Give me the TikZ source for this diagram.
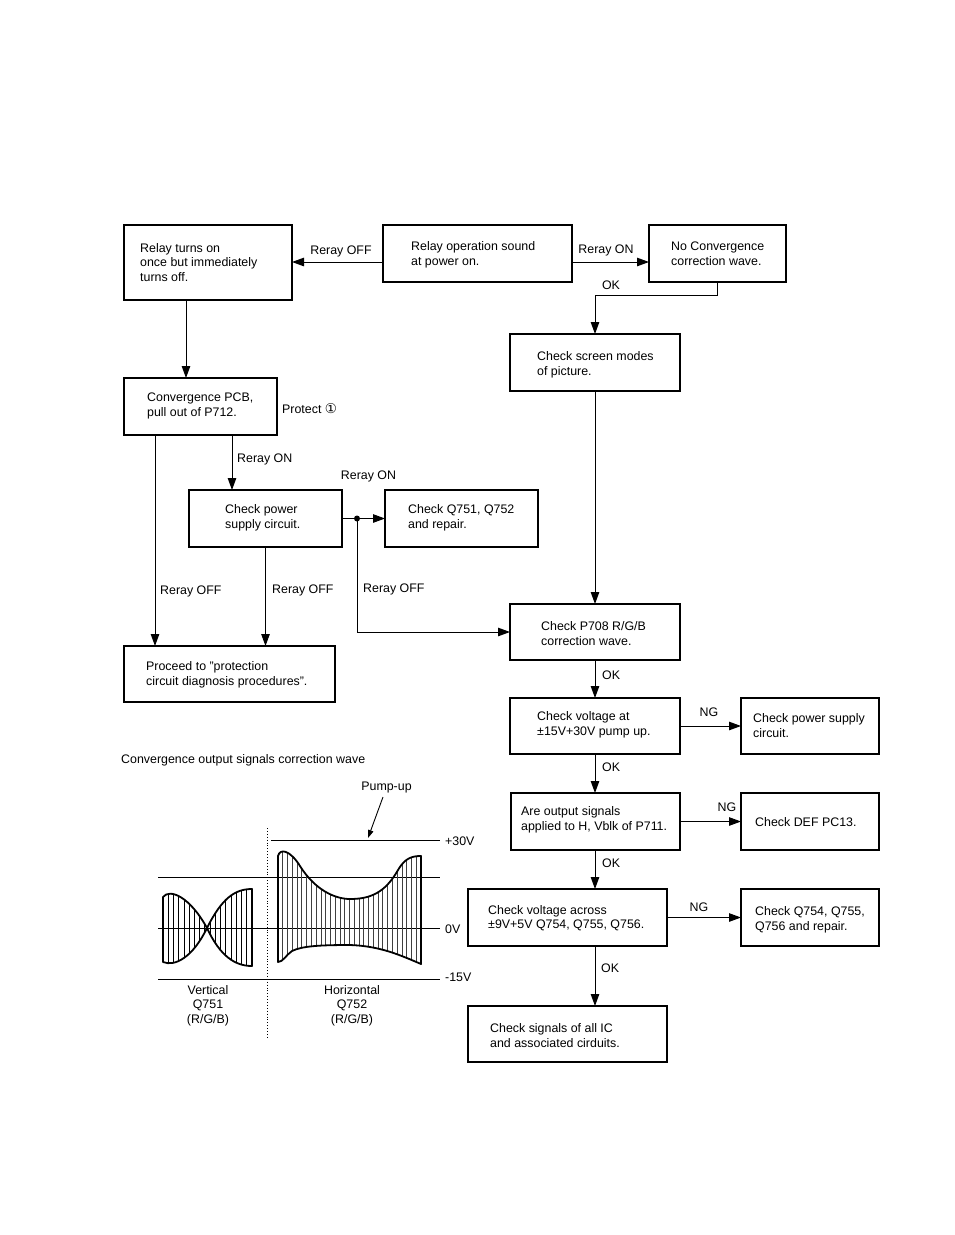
\documentclass[tikz,border=0pt]{standalone}
\usepackage{fontspec}
\setmainfont{Liberation Sans}
\newfontfamily\dejavu{DejaVu Sans}
\usetikzlibrary{arrows.meta}
\begin{document}
\begin{tikzpicture}[x=1pt,y=-1pt,
  box/.style={draw, line width=1.5pt, inner sep=0pt, outer sep=0pt, anchor=north west},
  txt/.style={font=\fontsize{12.4}{14.6}\selectfont, align=left, inner sep=0pt, anchor=west, yshift=-1.5pt},
  lbl/.style={font=\fontsize{12.4}{14.6}\selectfont, inner sep=0pt, yshift=-1.5pt},
  conn/.style={line width=1pt},
  arr/.style={conn, -{Triangle[length=12pt,width=8.5pt]}},
  env/.style={line width=1.8pt, line join=round},
  hatch/.style={line width=0.8pt}
]
\useasboundingbox (0,0) rectangle (954,1235);

% ---------- boxes ----------
\node[box, minimum width=168pt, minimum height=75pt] (b1) at (124,225) {};
\node[box, minimum width=189pt, minimum height=57pt] (b2) at (383,225) {};
\node[box, minimum width=137pt, minimum height=57pt] (b3) at (649,225) {};
\node[box, minimum width=170pt, minimum height=57pt] (b4) at (510,334) {};
\node[box, minimum width=153pt, minimum height=57pt] (b5) at (124,378) {};
\node[box, minimum width=153pt, minimum height=57pt] (b6) at (189,490) {};
\node[box, minimum width=153pt, minimum height=57pt] (b7) at (385,490) {};
\node[box, minimum width=211pt, minimum height=56pt] (b8) at (124,646) {};
\node[box, minimum width=170pt, minimum height=56pt] (b9) at (510,604) {};
\node[box, minimum width=170pt, minimum height=56pt] (b10) at (510,698) {};
\node[box, minimum width=138pt, minimum height=56pt] (b11) at (741,698) {};
\node[box, minimum width=169pt, minimum height=57pt] (b12) at (511,793) {};
\node[box, minimum width=138pt, minimum height=57pt] (b13) at (741,793) {};
\node[box, minimum width=199pt, minimum height=57pt] (b14) at (468,889) {};
\node[box, minimum width=138pt, minimum height=57pt] (b15) at (741,889) {};
\node[box, minimum width=199pt, minimum height=56pt] (b16) at (468,1006) {};

% ---------- box texts ----------
\node[txt] (t1) at (140,261) {Relay turns on\\once but immediately\\turns off.};
\node[txt] (t2) at (411,253.5) {Relay operation sound\\at power on.};
\node[txt] (t3) at (671,252) {No Convergence\\correction wave.};
\node[txt] (t4) at (537,363.5) {Check screen modes\\of picture.};
\node[txt] (t5) at (147,404.5) {Convergence PCB,\\pull out of P712.};
\node[txt] (t6) at (225,516) {Check power\\supply circuit.};
\node[txt] (t7) at (408,516.5) {Check Q751, Q752\\and repair.};
\node[txt] (t8) at (146,673.5) {Proceed to "protection\\circuit diagnosis procedures".};
\node[txt] (t9) at (541,632) {Check P708 R/G/B\\correction wave.};
\node[txt] (t10) at (537,723) {Check voltage at\\±15V+30V pump up.};
\node[txt] (t11) at (753,724) {Check power supply\\circuit.};
\node[txt] (t12) at (521,818) {Are output signals\\applied to H, Vblk of P711.};
\node[txt] (t13) at (755,821) {Check DEF PC13.};
\node[txt] (t14) at (488,916.5) {Check voltage across\\±9V+5V Q754, Q755, Q756.};
\node[txt] (t15) at (755,918) {Check Q754, Q755,\\Q756 and repair.};
\node[txt] (t16) at (490,1034) {Check signals of all IC\\and associated cirduits.};

% ---------- helper coordinates ----------
\coordinate (x155) at (155,0);
\coordinate (x186) at (186,0);
\coordinate (x232) at (232,0);
\coordinate (x595) at (595,0);
\coordinate (y262) at (0,262);
\coordinate (dot) at (357,518.5);
\coordinate (turn) at (357,632);

% ---------- connectors ----------
\draw[arr] (b2.west |- y262) -- (b1.east |- y262);
\draw[arr] (b2.east |- y262) -- (b3.west |- y262);
\draw[arr] (b3.south) -- ++(0,13) -| (b4.north);
\draw[arr] (b1.south -| x186) -- (b5.north -| x186);
\draw[arr] (b5.south -| x232) -- (b6.north -| x232);
\draw[arr] (b5.south -| x155) -- (b8.north -| x155);
\draw[arr] (b6.south) -- (b8.north -| b6.south);
\draw[conn] (b6.east) -- (dot);
\draw[arr] (dot) -- (b7.west);
\fill (dot) circle (3pt);
\draw[arr] (dot) -- (turn) -- (b9.west);
\draw[arr] (b4.south) -- (b9.north);
\draw[arr] (b9.south) -- (b10.north);
\draw[arr] (b10.east) -- (b11.west);
\draw[arr] (b10.south) -- (b12.north -| b10.south);
\draw[arr] (b12.east) -- (b13.west);
\draw[arr] (b12.south -| x595) -- (b14.north -| x595);
\draw[arr] (b14.east) -- (b15.west);
\draw[arr] (b14.south -| x595) -- (b16.north -| x595);

% ---------- connector labels ----------
\node[lbl] (l1) at (341,249.5) {Reray OFF};
\node[lbl] (l2) at (606,248.5) {Reray ON};
\node[lbl] (l3) at (611,283.5) {OK};
\node[lbl, anchor=west] (l4) at (282,407.5) {Protect {\dejavu\fontsize{13.5}{14}\selectfont ①}};
\node[lbl, anchor=west] (l5) at (237,457.5) {Reray ON};
\node[lbl] (l6) at (368.5,474.5) {Reray ON};
\node[lbl, anchor=west] (l7) at (160,589.5) {Reray OFF};
\node[lbl, anchor=west] (l8) at (272,588.5) {Reray OFF};
\node[lbl, anchor=west] (l9) at (363,587.5) {Reray OFF};
\node[lbl, anchor=west] (l10) at (602,673.5) {OK};
\node[lbl] (l11) at (709,710.5) {NG};
\node[lbl, anchor=west] (l12) at (602,765.5) {OK};
\node[lbl] (l13) at (727,805.5) {NG};
\node[lbl, anchor=west] (l14) at (602,861.5) {OK};
\node[lbl] (l15) at (699,905.5) {NG};
\node[lbl, anchor=west] (l16) at (601,966.5) {OK};

% ---------- waveform section ----------
\node[lbl, anchor=west] (wt) at (121,758.5) {Convergence output signals correction wave};
\node[lbl] (pump) at (386.5,786.5) {Pump-up};
\coordinate (pumptip) at (368,838);
\draw[conn, line width=0.9pt, -{Triangle[length=8pt,width=5.5pt]}] (383,797) -- (pumptip);

\draw[conn] (271,840) -- (440,840);
\draw[conn] (158,877) -- (440,877);
\draw[conn] (158,928) -- (440,928);
\draw[conn] (158,979) -- (440,979);
\node[lbl, anchor=west] (v30) at (445,839.5) {+30V};
\node[lbl, anchor=west] (v0) at (445,927.5) {0V};
\node[lbl, anchor=west] (v15) at (445,975.5) {-15V};
\draw[line width=0.9pt, dotted] (267,828) -- (267,1038);

% vertical waveform
\def\vpath{(163,897) .. controls (170,888) and (190,897) .. (207,928) .. controls (222,898) and (235,889) .. (252,889) -- (252,966) .. controls (235,966) and (220,956) .. (207,928) .. controls (193,957) and (175,967) .. (163,962) -- cycle}
\begin{scope}
\clip \vpath;
\foreach \i in {0,...,17} \draw[hatch] ({163+\i*89/17},880) -- ++(0,100);
\end{scope}
\draw[env] \vpath;

% horizontal waveform
\def\hpath{(278,856) .. controls (280,848) and (290,850) .. (300,866) .. controls (315,890) and (335,899) .. (350,899) .. controls (370,899) and (385,893) .. (398,870) .. controls (405,858) and (412,856) .. (421,856) -- (421,964) .. controls (400,955) and (380,946) .. (350,945) .. controls (320,945) and (302,946) .. (292,951) .. controls (286,955) and (283,962) .. (278,962) -- cycle}
\begin{scope}
\clip \hpath;
\foreach \i in {0,...,30} \draw[hatch, black!75] ({278+\i*143/30},840) -- ++(0,130);
\end{scope}
\draw[env] \hpath;

\node[lbl, align=center] (vlab) at (208,1004) {Vertical\\Q751\\(R/G/B)};
\node[lbl, align=center] (hlab) at (352,1004) {Horizontal\\Q752\\(R/G/B)};
\end{tikzpicture}
\end{document}
